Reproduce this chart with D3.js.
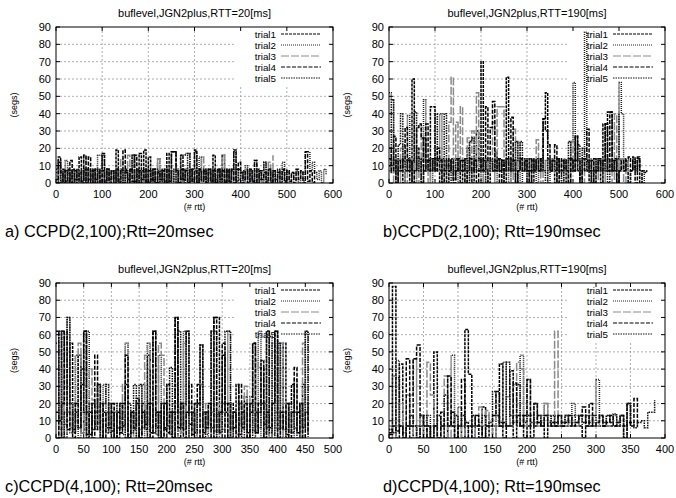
<!DOCTYPE html>
<html>
<head>
<meta charset="utf-8">
<script src="https://d3js.org/d3.v7.min.js"></script>
<style>
  body { margin: 0; background: #fff; }
  svg { display: block; font-family: "Liberation Sans", Arial, sans-serif; }
</style>
</head>
<body>
<svg id="chart" width="676" height="498"></svg>
<script>
// trial names and y axis (segs)
const trialNames = ['trial1', 'trial2', 'trial3', 'trial4', 'trial5'];
const yTicks = [0, 10, 20, 30, 40, 50, 60, 70, 80, 90];

// x axis ticks per panel
const xTicksA = [0, 100, 200, 300, 400, 500, 600];
const xTicksB = [0, 100, 200, 300, 400, 500, 600];
const xTicksC = [0, 50, 100, 150, 200, 250, 300, 350, 400, 450, 500];
const xTicksD = [0, 50, 100, 150, 200, 250, 300, 350, 400];

// sample spacing in rtt (value i sits at rtt = i * step)
const stepA = 5, stepB = 5, stepC = 5, stepD = 5;

// a) CCPD(2,100); Rtt=20msec
const sa1 = [2,15,0,8,1,7,0,8,2,6, 15,1,8,0,7,2,8,0,6,1, 17,0,8,2,7,0,19,1,8,0, 7,2,8,16,0,7,17,1,19,0,
  15,2,8,0,7,1,8,0,17,2, 18,18,8,0,16,1,8,0,7,2, 19,0,8,1,7,0,8,2,16,0, 8,1,16,0,7,2,8,19,0];
const sa2 = [6,0,7,1,13,0,6,2,7,0, 6,1,7,0,6,2,8,0,16,16, 7,0,6,1,7,0,8,2,7,0, 6,1,7,0,6,2,7,0,8,1,
  7,0,6,2,14,0,7,1,8,0, 7,2,6,0,16,16,17,17,8,1, 7,0,15,2,7,0,6,1,7,0, 8,2,7,0,6,1,8,0,7,2,
  6,0,10,1,7,0,13,2,6,0, 12,1,7,0,6,2,7,0,12,1, 7,0,6,2,7,0,6,1,18,18, 7,12,6,2,7,0,8,5];
const sa3 = [4,8,1,7,0,8,2,7,1,8, 0,7,16,1,8,0,7,2,8,0, 7,1,8,0,7,2,8,0,14,1, 8,16,0,16,1,8,2,7,0,8,
  1,7,0,8,14,1,7,0,8,2, 7,0,8,1,7,0,8,2,7,0, 8,1,7,15,8,0,7,2,8,1, 7,0,16,1,8,0,7,2,8,0,
  7,1,8,0,7,2,8,0,7,1, 8,0,12,1,16];
const sa4 = [0,12,6,0,7,1,13,0,7,2, 6,0,16,1,15,0,7,2,8,0, 7,1,8,0,7,2,8,0,7,19, 6,0,8,1,16,0,7,2,8,0,
  7,1,8,0,6,2,7,0,8,1, 18,18,7,0,8,2,7,0,8,1, 7,0,8,2,7,0,8,1,7,0, 8,2,7,0,8,1,7,0,8,12,
  6,2,7,0,8,1,13,0,7,2, 6,0,8,1,7,0,6,2,8,0, 7,1,6,0,8,2,7,0,18,1, 7,0,8];
const sa5 = [8,13,1,7,0,8,2,7,0,8, 1,7,0,8,2,7,0,8,1,7, 16,0,8,2,7,0,8,1,7,0, 8,2,7,16,1,8,0,7,2,8,
  0,7,1,8,0,7,2,8,0,7, 1,8,0,7,2,8,0,17,1,8, 18,0,7,2,8,1,7,0,8,2, 7,0,8,1,7,0,8,18,1,8,
  0,7,2,8,1,7,0,8,2,7, 12,1,8,0,7,2,8,0,7,1, 8];

// b) CCPD(2,100); Rtt=190msec
const sb1 = [20,6,13,0,7,14,0,7,13,0, 60,7,20,14,0,26,13,7,44,44, 7,14,0,7,13,0,7,14,2,7, 13,0,7,14,20,7,0,13,30,7,
  70,7,14,0,13,7,18,14,7,13, 0,61,14,7,13,0,7,14,7,13, 7,14,0,13,7,14,7,37,52,14, 7,13,0,14,7,13,7,0,14,7,
  13,27,7,0,14,7,13,0,7,14, 7,13,0,34,7,41,41,7,13,0, 7,14,7,13,0,7,15,7,14,0,7,6,7];
const sb2 = [52,48,7,13,0,7,22,13,39,7, 13,0,14,7,13,48,7,14,0,13, 7,14,40,7,13,0,7,14,7,13, 0,7,14,7,13,0,7,14,7,13,
  0,7,14,7,13,7,0,14,7,13, 7,14,0,7,13,7,14,0,7,13, 7,14,7,13,0,7,14,7,13,0, 7,14,7,13,7,0,14,7,13,24,
  58,7,13,0,14,87,7,13,0,7, 14,7,13,0,7,14,7,13,7,0, 58,40,7,13,0,7,14,7,13,7,0,7,6];
const sb3 = [7,13,0,14,7,20,13,0,7,14, 13,7,0,14,32,13,7,0,14,7, 13,7,14,0,7,13,35,61,14,35, 7,44,13,0,26,7,30,14,52,7,
  13,0,14,7,13,35,7,44,44,44, 13,7,14,0,31,7,24,13,7,14, 0,7,13,7,25,14,0,7,13,7, 14,7,13,0,7,14,7,13,0,24,
  7,13,14,7,0,13,7,14,7,13, 0,7,14,7,13,7,14,0,40,13, 7,14,0,7,13];
const sb4 = [14,7,27,0,13,7,14,32,7,13, 0,7,32,34,26,7,34,13,7,14, 7,20,13,0,7,14,7,13,0,7, 14,7,13,0,7,14,7,13,0,7,
  14,7,44,13,32,47,7,14,0,13, 7,14,7,38,13,0,7,14,7,13, 7,0,14,7,13,7,14,37,30,22, 7,13,22,0,14,7,13,7,0,14,
  7,27,13,0,7,14,31,7,13,0, 7,14,7,13,34,7,41,7,14,0, 7,13,7,14,15,7,13,0,15,7];
const sb5 = [10,48,13,7,22,40,13,7,14,7, 13,41,7,14,0,7,13,7,14,7, 40,13,7,14,40,7,13,0,7,14, 7,13,7,14,0,24,26,7,13,14,
  7,13,0,7,14,7,13,7,14,0, 7,13,7,14,7,24,13,24,7,14, 0,7,13,7,14,7,13,7,0,14, 7,13,7,14,7,0,13,7,24,14,
  7,13,22,7,20,14,7,13,0,7, 14,7,13,7,14,0,7,13,7,14,40];

// c) CCPD(4,100); Rtt=20msec
const sc1 = [62,10,62,0,15,55,5,20,48,3, 62,15,2,20,8,31,0,15,6,20, 4,15,0,20,7,31,2,15,5,23, 0,20,8,48,3,62,15,0,20,6,
  31,2,15,70,0,20,5,62,8,15, 0,20,54,3,15,8,62,70,70,4, 48,15,0,20,6,31,2,15,24,0, 20,55,3,15,45,8,62,0,20,62,
  5,15,55,2,20,31,6,15,0,31, 20,3];
const sc2 = [55,0,62,8,70,3,20,48,0,15, 5,62,0,20,7,15,0,31,3,20, 0,15,6,20,2,55,0,15,8,20, 3,31,0,55,6,15,2,48,0,20,
  7,15,0,31,4,20,62,0,15,5, 20,0,31,15,2,20,6,62,0,15, 5,20,62,0,15,3,20,8,15,0, 24,4,15,62,0,20,6,59,2,15,
  55,0,20,5,15,0,34,3,20,6, 62,0];
const sc3 = [20,5,40,0,15,6,20,48,55,3, 15,0,40,22,5,15,0,20,3,15, 0,20,6,15,31,55,2,15,0,20, 5,15,48,55,40,3,20,55,48,0,
  15,6,20,0,15,3,55,0,20,5, 15,0,31,6,20,0,15,4,20,0, 15,6,20,0,15,2,20,5,30,0, 15,6,45,41,20,3,15,0,20,6,
  15,55,0,20,3,15,6,20,0,55, 15,3];
const sc4 = [15,0,20,62,5,15,0,20,6,31, 62,2,15,0,48,5,20,0,15,6, 20,0,15,3,20,48,0,15,6,20, 0,15,5,20,0,62,6,15,0,20,
  3,15,0,70,6,20,0,15,31,2, 20,31,0,15,6,20,0,70,3,15, 55,0,20,5,15,0,31,6,20,0, 15,55,3,20,41,0,15,6,20,62,
  0,15,5,20,0,15,41,3,20,0, 15,2];
const sc5 = [10,62,0,15,70,20,3,15,6,40, 15,0,20,5,15,31,0,20,31,3, 15,0,20,6,15,0,20,3,31,0, 31,6,15,0,20,3,15,0,20,5,
  31,41,0,15,62,6,20,62,0,15, 3,20,54,0,15,6,62,0,15,3, 20,62,62,0,15,6,20,0,15,3, 20,0,15,6,20,0,62,3,55,0,
  55,6,15,0,20,3,15,0,20,6, 62,15];

// d) CCPD(4,100); Rtt=190msec
const sd1 = [3,88,0,43,0,7,0,7,0,13, 0,7,0,50,0,7,0,7,15,0, 7,0,63,37,0,7,0,18,0,7, 0,7,43,0,7,39,0,13,7,0,
  7,0,7,13,7,0,7,7,7,7, 7,7,7,7,7,7,0,7,7,7, 7,7,7,7,7,7,7,7,0,20, 7];
const sd2 = [5,36,45,7,0,7,25,46,7,0, 7,13,0,7,13,7,0,7,48,7, 18,7,0,7,13,7,0,7,13,7, 7,13,7,44,7,9,13,7,48,7,
  34,13,7,9,7,20,13,7,13,7, 9,13,7,20,13,7,13,9,7,13, 34,13,7,13,9,13,7,13,7,20, 13];
const sd3 = [7,0,7,20,0,25,7,0,7,13, 0,44,25,7,0,7,36,0,7,13, 7,0,9,7,0,7,18,7,16,7, 0,13,7,9,24,7,31,44,40,7,
  13,7,9,7,13,20,7,9,62,7, 9,13,7,9,7,13,9,7,13,9, 7,13,9,7,13,9,7];
const sd4 = [2,7,4,7,0,46,7,46,54,13, 7,0,7,7,0,15,7,36,7,0, 7,34,7,0,7,13,7,0,7,7, 13,27,7,9,7,7,32,9,7,13,
  34,7,20,9,7,13,7,9,7,13, 7,9,13,7,9,13,18,7,20,7, 9,13,7,9,13,7,9,13,7,9, 7,23,7];
const sd5 = [5,3,35,7,3,7,13,7,0,7, 13,7,0,7,13,7,25,7,9,13, 7,13,9,7,13,7,9,13,7,9, 27,13,9,7,44,13,9,31,13,9,
  13,9,20,13,9,13,9,13,9,13, 9,13,9,13,9,13,9,13,9,13, 9,13,9,13,9,14,9,13,0,20, 9,6,9,10,6,15,15,22];

const panels = [
  { box: [56, 333, 27, 183], xMax: 600, xTicks: xTicksA, step: stepA, series: [sa1, sa2, sa3, sa4, sa5],
    title: 'buflevel,JGN2plus,RTT=20[ms]', caption: 'a) CCPD(2,100);Rtt=20msec', capX: 5 },
  { box: [389, 665, 27, 183], xMax: 600, xTicks: xTicksB, step: stepB, series: [sb1, sb2, sb3, sb4, sb5],
    title: 'buflevel,JGN2plus,RTT=190[ms]', caption: 'b)CCPD(2,100); Rtt=190msec', capX: 383 },
  { box: [56, 333, 283, 438], xMax: 500, xTicks: xTicksC, step: stepC, series: [sc1, sc2, sc3, sc4, sc5],
    title: 'buflevel,JGN2plus,RTT=20[ms]', caption: 'c)CCPD(4,100); Rtt=20msec', capX: 5 },
  { box: [389, 665, 283, 438], xMax: 400, xTicks: xTicksD, step: stepD, series: [sd1, sd2, sd3, sd4, sd5],
    title: 'buflevel,JGN2plus,RTT=190[ms]', caption: 'd)CCPD(4,100); Rtt=190msec', capX: 383 }
];

// line styles for the 5 trials (gnuplot-like mono dashes)
const trialStyles = [
  { stroke: '#000', dash: '3,1' },
  { stroke: '#222', dash: '1,1' },
  { stroke: '#8a8a8a', dash: '8,2' },
  { stroke: '#000', dash: '4,1.5' },
  { stroke: '#111', dash: '1.5,1' }
];

const svg = d3.select('#chart');

panels.forEach((p, pi) => {
  const [x0, x1, y0, y1] = p.box;
  const g = svg.append('g');
  const x = d3.scaleLinear().domain([0, p.xMax]).range([x0, x1]);
  const y = d3.scaleLinear().domain([0, 90]).range([y1, y0]);

  // grid
  g.append('g').selectAll('line')
    .data(p.xTicks.filter(t => t > 0 && t < p.xMax))
    .enter().append('line')
    .attr('x1', d => x(d)).attr('x2', d => x(d))
    .attr('y1', y0).attr('y2', y1)
    .style('stroke', '#9a9a9a').style('stroke-dasharray', '2,2').style('stroke-width', 0.8);
  g.append('g').selectAll('line')
    .data(yTicks.filter(t => t > 0 && t < 90))
    .enter().append('line')
    .attr('x1', x0).attr('x2', x1)
    .attr('y1', d => y(d)).attr('y2', d => y(d))
    .style('stroke', '#9a9a9a').style('stroke-dasharray', '2,2').style('stroke-width', 0.8);

  // legend
  const leg = g.append('g');
  leg.append('rect')
    .attr('x', x1 - 97).attr('y', y0 + 1).attr('width', 96).attr('height', 57)
    .style('fill', '#fff');
  trialNames.forEach((name, i) => {
    const ly = y0 + 7 + i * 11;
    leg.append('text')
      .attr('x', x1 - 57).attr('y', ly + 3.6)
      .attr('text-anchor', 'end')
      .style('font-size', '9.8px')
      .text(name);
    leg.append('line')
      .attr('x1', x1 - 52).attr('x2', x1 - 12)
      .attr('y1', ly).attr('y2', ly)
      .style('stroke', trialStyles[i].stroke)
      .style('stroke-dasharray', trialStyles[i].dash)
      .style('stroke-width', 1);
  });

  // data
  const clipId = 'clip' + pi;
  svg.append('clipPath').attr('id', clipId)
    .append('rect').attr('x', x0).attr('y', y0).attr('width', x1 - x0).attr('height', y1 - y0);
  const line = d3.line()
    .x((d, i) => x(i * p.step))
    .y(d => y(d))
    .curve(d3.curveStepAfter);
  p.series.forEach((s, i) => {
    g.append('path')
      .datum(s)
      .attr('clip-path', `url(#${clipId})`)
      .attr('d', line)
      .style('fill', 'none')
      .style('stroke', trialStyles[i].stroke)
      .style('stroke-dasharray', trialStyles[i].dash)
      .style('stroke-width', 1.5);
  });

  // frame and inward ticks
  g.append('rect')
    .attr('x', x0).attr('y', y0).attr('width', x1 - x0).attr('height', y1 - y0)
    .style('fill', 'none').style('stroke', '#000').style('stroke-width', 1);
  p.xTicks.forEach(t => {
    g.append('line').attr('x1', x(t)).attr('x2', x(t)).attr('y1', y1).attr('y2', y1 - 4).style('stroke', '#000');
    g.append('line').attr('x1', x(t)).attr('x2', x(t)).attr('y1', y0).attr('y2', y0 + 4).style('stroke', '#000');
    g.append('text')
      .attr('x', x(t)).attr('y', y1 + 15)
      .attr('text-anchor', 'middle')
      .style('font-size', '11px')
      .text(t);
  });
  yTicks.forEach(t => {
    g.append('line').attr('x1', x0).attr('x2', x0 + 4).attr('y1', y(t)).attr('y2', y(t)).style('stroke', '#000');
    g.append('line').attr('x1', x1).attr('x2', x1 - 4).attr('y1', y(t)).attr('y2', y(t)).style('stroke', '#000');
    g.append('text')
      .attr('x', x0 - 5).attr('y', y(t) + 4)
      .attr('text-anchor', 'end')
      .style('font-size', '11px')
      .text(t);
  });

  // texts
  g.append('text')
    .attr('x', (x0 + x1) / 2).attr('y', y0 - 10)
    .attr('text-anchor', 'middle')
    .style('font-size', '11px')
    .text(p.title);
  g.append('text')
    .attr('transform', `translate(${x0 - 39}, ${(y0 + y1) / 2}) rotate(-90)`)
    .attr('text-anchor', 'middle')
    .style('font-size', '9px')
    .text('(segs)');
  g.append('text')
    .attr('x', (x0 + x1) / 2).attr('y', y1 + 27)
    .attr('text-anchor', 'middle')
    .style('font-size', '9px')
    .text('(# rtt)');
  g.append('text')
    .attr('x', p.capX).attr('y', y1 + 54)
    .style('font-size', '16.3px')
    .text(p.caption);
});
</script>
</body>
</html>
